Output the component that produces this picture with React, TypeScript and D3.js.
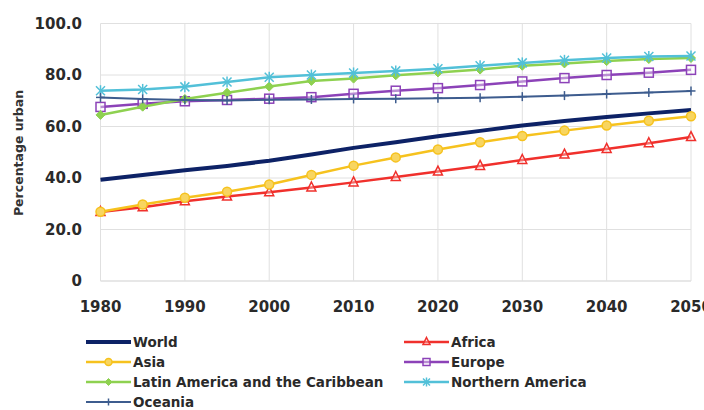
import React from "react";
import * as d3 from "d3";

const years = [1980, 1985, 1990, 1995, 2000, 2005, 2010, 2015, 2020, 2025, 2030, 2035, 2040, 2045, 2050];
const world = [39.3, 41.2, 43.0, 44.7, 46.7, 49.1, 51.7, 53.9, 56.2, 58.3, 60.4, 62.1, 63.7, 65.1, 66.4];
const africa = [26.8, 28.6, 31.0, 32.8, 34.5, 36.3, 38.3, 40.4, 42.5, 44.7, 47.0, 49.1, 51.3, 53.5, 55.9];
const asia = [26.9, 29.7, 32.3, 34.7, 37.5, 41.2, 44.8, 48.0, 51.1, 53.9, 56.3, 58.4, 60.4, 62.2, 64.0];
const europe = [67.6, 68.8, 69.8, 70.3, 70.8, 71.4, 72.7, 73.9, 74.9, 76.1, 77.5, 78.8, 80.0, 80.9, 82.0];
const latinAmerica = [64.5, 67.7, 70.7, 73.1, 75.5, 77.7, 78.6, 79.9, 81.0, 82.1, 83.6, 84.5, 85.4, 86.2, 86.6];
const northernAmerica = [73.9, 74.4, 75.4, 77.3, 79.1, 80.0, 80.8, 81.6, 82.4, 83.6, 84.7, 85.7, 86.6, 87.2, 87.4];
const oceania = [71.3, 70.7, 70.3, 70.1, 70.4, 70.5, 70.7, 70.8, 71.0, 71.2, 71.6, 72.0, 72.6, 73.2, 73.8];

const yTicks = [0, 20, 40, 60, 80, 100];
const xTicks = [1980, 1990, 2000, 2010, 2020, 2030, 2040, 2050];
const yTitle = "Percentage urban";

type Marker = "none" | "triangle" | "circle" | "square" | "diamond" | "asterisk" | "plus";
interface Series { name: string; values: number[]; color: string; fill: string; marker: Marker; width: number; }

const series: Series[] = [
  { name: "World", values: world, color: "#0d2266", fill: "none", marker: "none", width: 4 },
  { name: "Africa", values: africa, color: "#f0302c", fill: "none", marker: "triangle", width: 2.5 },
  { name: "Asia", values: asia, color: "#f6c21e", fill: "#f8d560", marker: "circle", width: 2.5 },
  { name: "Europe", values: europe, color: "#8c42b8", fill: "none", marker: "square", width: 2.5 },
  { name: "Latin America and the Caribbean", values: latinAmerica, color: "#8ed150", fill: "#8ed150", marker: "diamond", width: 2.5 },
  { name: "Northern America", values: northernAmerica, color: "#52c0d8", fill: "none", marker: "asterisk", width: 2.5 },
  { name: "Oceania", values: oceania, color: "#3d5c8e", fill: "none", marker: "plus", width: 2 },
];

const legendOrder = [
  ["World", "Africa"],
  ["Asia", "Europe"],
  ["Latin America and the Caribbean", "Northern America"],
  ["Oceania"],
];

const FONT = "'DejaVu Sans', sans-serif";

function MarkerShape({ type, x, y, color, fill, s = 4.5 }: { type: Marker; x: number; y: number; color: string; fill: string; s?: number }) {
  switch (type) {
    case "triangle":
      return <path d={`M${x},${y - s - 1}L${x + s},${y + s - 1}L${x - s},${y + s - 1}Z`} fill="rgba(255,255,255,0.3)" stroke={color} strokeWidth={1.5} />;
    case "circle":
      return <circle cx={x} cy={y} r={s} fill={fill} stroke={color} strokeWidth={1.5} />;
    case "square":
      return <rect x={x - s} y={y - s} width={2 * s} height={2 * s} fill="rgba(255,255,255,0.4)" stroke={color} strokeWidth={1.5} />;
    case "diamond":
      return <path d={`M${x},${y - s}L${x + s},${y}L${x},${y + s}L${x - s},${y}Z`} fill={fill} stroke={color} strokeWidth={1} />;
    case "asterisk":
      return (
        <g stroke={color} strokeWidth={1.5}>
          <line x1={x - s} y1={y - s} x2={x + s} y2={y + s} />
          <line x1={x - s} y1={y + s} x2={x + s} y2={y - s} />
          <line x1={x} y1={y - s - 1} x2={x} y2={y + s + 1} />
        </g>
      );
    case "plus":
      return (
        <g stroke={color} strokeWidth={1.5}>
          <line x1={x} y1={y - s} x2={x} y2={y + s} />
          <line x1={x - s} y1={y} x2={x + s} y2={y} />
        </g>
      );
    default:
      return null;
  }
}

export default function App() {
  const W = 704, H = 410;
  const x = d3.scaleLinear().domain([1980, 2050]).range([100.5, 691]);
  const y = d3.scaleLinear().domain([0, 100]).range([281, 23.5]);
  const line = d3.line<number>().x((_, i) => x(years[i])).y((d) => y(d));
  const byName = new Map(series.map((s) => [s.name, s]));
  const colX = [86, 404];
  const rowY = [342, 362, 382, 402];

  return (
    <svg width={W} height={H} style={{ position: "absolute", left: 0, top: 0, background: "#fff" }}>
      <rect width={W} height={H} fill="#fff" />
      {yTicks.map((t) => (
        <line key={"gy" + t} x1={x(1980)} x2={x(2050)} y1={y(t)} y2={y(t)} stroke={t === 0 ? "#cfcfcf" : "#e0e0e0"} strokeWidth={1} />
      ))}
      {xTicks.map((t) => (
        <line key={"gx" + t} x1={x(t)} x2={x(t)} y1={y(100)} y2={y(0)} stroke="#e0e0e0" strokeWidth={1} />
      ))}
      {yTicks.map((t) => (
        <text key={"yl" + t} x={82} y={y(t)} dy="0.36em" textAnchor="end" fontFamily={FONT} fontWeight="bold" fontSize={15} fill="#2a2a2a">
          {t === 0 ? "0" : d3.format(".1f")(t)}
        </text>
      ))}
      {xTicks.map((t) => (
        <text key={"xl" + t} x={x(t)} y={307} dy="0.36em" textAnchor="middle" fontFamily={FONT} fontWeight="bold" fontSize={15} fill="#2a2a2a">
          {t}
        </text>
      ))}
      <text transform={`translate(18,153) rotate(-90)`} textAnchor="middle" dy="0.36em" fontFamily={FONT} fontWeight="bold" fontSize={12.5} fill="#333">
        {yTitle}
      </text>
      {series.map((s) => (
        <g key={s.name}>
          <path d={line(s.values) || ""} fill="none" stroke={s.color} strokeWidth={s.width} strokeLinejoin="round" />
          {s.marker !== "none" &&
            s.values.map((v, i) => <MarkerShape key={i} type={s.marker} x={x(years[i])} y={y(v)} color={s.color} fill={s.fill} />)}
        </g>
      ))}
      {legendOrder.map((row, ri) =>
        row.map((name, ci) => {
          const s = byName.get(name)!;
          const lx = colX[ci];
          const ly = rowY[ri];
          return (
            <g key={name}>
              <line x1={lx} x2={lx + 45} y1={ly} y2={ly} stroke={s.color} strokeWidth={s.width} />
              {s.marker !== "none" && <MarkerShape type={s.marker} x={lx + 22.5} y={ly} color={s.color} fill={s.fill} s={3.5} />}
              <text x={lx + 47} y={ly} dy="0.36em" fontFamily={FONT} fontWeight="bold" fontSize={13.5} fill="#2a2a2a">
                {name}
              </text>
            </g>
          );
        })
      )}
    </svg>
  );
}
